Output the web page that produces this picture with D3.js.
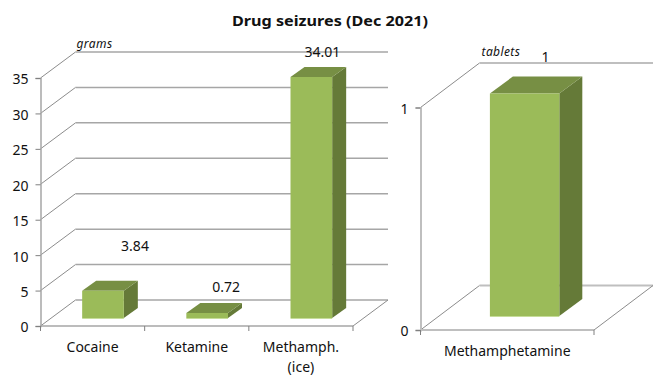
<!DOCTYPE html>
<html>
<head>
<meta charset="utf-8">
<title>Drug seizures (Dec 2021)</title>
<script src="https://cdn.jsdelivr.net/npm/d3@7"></script>
<style>
  html, body { margin: 0; padding: 0; background: #fff; }
  svg { display: block; }
  text { font-family: "Noto Sans", sans-serif; fill: #111; }
</style>
</head>
<body>
<svg id="chart" width="658" height="385"></svg>
<script>
// ----- Data -----
const gramsCategories = ['Cocaine', 'Ketamine', 'Methamph.\n(ice)'];
const gramsValues = [3.84, 0.72, 34.01];
const gramsTicks = [0, 5, 10, 15, 20, 25, 30, 35];
const tabletsCategories = ['Methamphetamine'];
const tabletsValues = [1];
const tabletsTicks = [0, 1];

const fontFamily = '"Noto Sans", sans-serif';
const svg = d3.select('#chart');

svg.append('text')
  .attr('x', 330).attr('y', 26)
  .attr('text-anchor', 'middle')
  .attr('font-size', 14).attr('font-weight', 'bold')
  .attr('textLength', 196).attr('lengthAdjust', 'spacingAndGlyphs')
  .text('Drug seizures (Dec 2021)');

// one pseudo-3D panel: floor, back wall lines, bars, axes
function drawPanel(p) {
  const g = svg.append('g');
  const x = d3.scaleBand().domain(p.categories).range([p.left, p.right]);
  const y = d3.scaleLinear().domain([0, p.max]).range([p.bottom, p.top]);
  const line = (x1, y1, x2, y2) => g.append('line')
    .attr('x1', x1).attr('y1', y1).attr('x2', x2).attr('y2', y2)
    .attr('stroke', p.gridColor).attr('stroke-width', p.gridWidth);

  // wall gridlines and their diagonals
  p.ticks.forEach(t => {
    line(p.left, y(t), p.left + p.dx, y(t) - p.dy).attr('stroke', '#8c8c8c').attr('stroke-width', 1);
    line(p.left + p.dx, y(t) - p.dy, p.right + p.dx, y(t) - p.dy);
  });
  // floor
  line(p.left, p.bottom, p.right, p.bottom);
  line(p.right, p.bottom, p.right + p.dx, p.bottom - p.dy).attr('stroke', '#8c8c8c').attr('stroke-width', 1);

  // y axis
  const yAxis = g.append('g')
    .attr('transform', `translate(${p.left},0)`)
    .call(d3.axisLeft(y).tickValues(p.ticks).tickFormat(d3.format('d')).tickSize(5).tickPadding(7));
  yAxis.select('.domain').attr('stroke', p.gridColor).attr('stroke-width', p.gridWidth);
  yAxis.selectAll('.tick line').attr('stroke', '#808080');
  yAxis.selectAll('text').attr('font-size', 14).attr('font-family', fontFamily).attr('fill', '#111').attr('y', 1.5);

  // x axis, labels only, ticks sit on the band edges
  const xAxis = g.append('g')
    .attr('transform', `translate(0,${p.bottom})`)
    .call(d3.axisBottom(x).tickSize(0).tickPadding(p.labelPad));
  xAxis.select('.domain').remove();
  xAxis.selectAll('text')
    .attr('font-size', 14).attr('font-family', fontFamily).attr('fill', '#111')
    .each(function(d) {
      const el = d3.select(this).text(null);
      d.split('\n').forEach((part, i) => {
        el.append('tspan').attr('x', 0).attr('dy', i ? 20 : '0.71em').text(part);
      });
    });
  d3.range(p.categories.length + 1).forEach(i => {
    const tx = p.left + i * x.step();
    g.append('line').attr('x1', tx).attr('x2', tx).attr('y1', p.bottom).attr('y2', p.bottom + 5)
      .attr('stroke', '#808080');
  });

  // bars
  p.values.forEach((v, i) => {
    const cat = p.categories[i];
    const x0 = x(cat) + x.bandwidth() * p.barStart;
    const x1 = x0 + x.bandwidth() * p.barWidth;
    const yb = y(0) - p.barLift;
    const yt = y(v) - p.barLift;
    const poly = (pts, fill) => g.append('polygon').attr('points', pts.join(' ')).attr('fill', fill);

    poly([[x1, yb], [x1 + p.bdx, yb - p.bdy], [x1 + p.bdx, yt - p.bdy], [x1, yt]], '#657a38');
    poly([[x0, yt], [x1, yt], [x1 + p.bdx, yt - p.bdy], [x0 + p.bdx, yt - p.bdy]], '#778f44');
    poly([[x0, yb], [x1, yb], [x1, yt], [x0, yt]], '#9bbb59');
    g.append('line').attr('x1', x0).attr('x2', x1).attr('y1', yb + 0.5).attr('y2', yb + 0.5)
      .attr('stroke', '#c6dc9a');

    g.append('text')
      .attr('x', (x0 + x1) / 2 + p.nudgeX[i])
      .attr('y', yt - p.nudgeY[i])
      .attr('text-anchor', 'middle')
      .attr('font-size', 14)
      .text(v);
  });

  // unit label
  g.append('text')
    .attr('x', p.left + p.dx + p.unitDx).attr('y', p.top - p.dy - p.unitDy)
    .attr('font-size', 12).attr('font-style', 'italic').attr('letter-spacing', 0.4)
    .text(p.unit);
}

drawPanel({
  categories: gramsCategories, values: gramsValues, ticks: gramsTicks, unit: 'grams',
  max: 35, left: 40.5, right: 353, top: 78, bottom: 326, dx: 35, dy: 26, unitDx: 1, unitDy: 4,
  gridColor: '#a6a6a6', gridWidth: 1.5, labelPad: 16,
  barStart: 0.4, barWidth: 0.4, barLift: 8, bdx: 14, bdy: 10,
  nudgeX: [32, 19, 11], nudgeY: [40, 21, 20]
});

drawPanel({
  categories: tabletsCategories, values: tabletsValues, ticks: tabletsTicks, unit: 'tablets',
  max: 1, left: 420.5, right: 594, top: 107.5, bottom: 330, dx: 59, dy: 44.5, unitDx: 2, unitDy: 7,
  gridColor: '#bfbfbf', gridWidth: 2, labelPad: 16,
  barStart: 0.4, barWidth: 0.4, barLift: 14, bdx: 23, bdy: 17,
  nudgeX: [21], nudgeY: [32]
});
</script>
</body>
</html>
